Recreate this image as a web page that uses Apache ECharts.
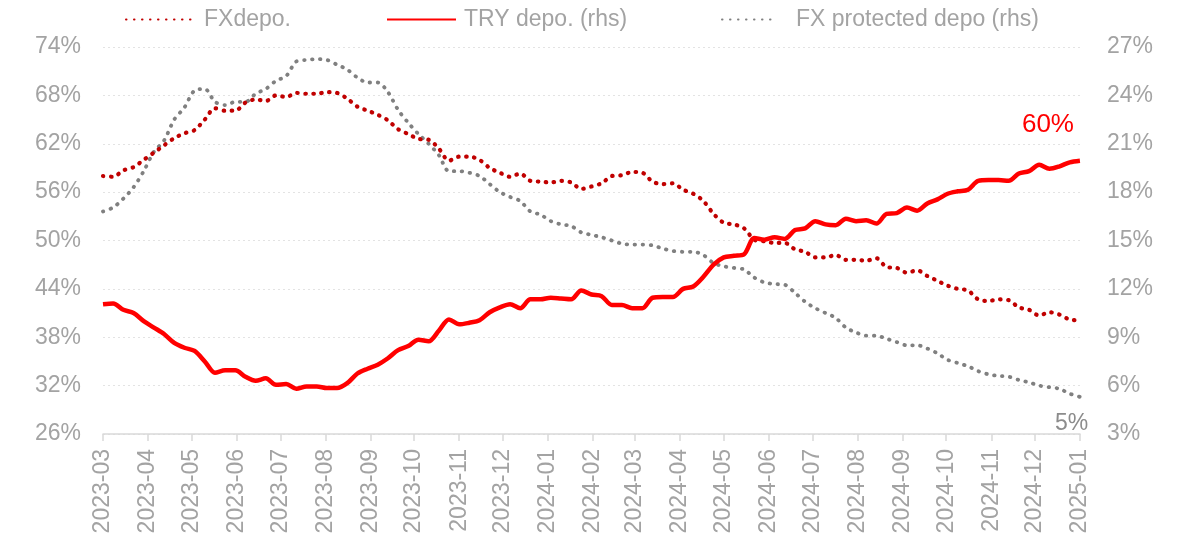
<!DOCTYPE html>
<html lang="en">
<head>
    <meta charset="UTF-8">
    <title>FX vs TRY deposits</title>
    <script src="https://cdn.jsdelivr.net/npm/echarts@6/dist/echarts.min.js"></script>
    <style>
        html, body { margin: 0; padding: 0; background: #fff; }
        #main { width: 1179px; height: 541px; }
    </style>
</head>
<body>
<div id="main"></div>
<script type="text/javascript">
    // weekly observations, first one on 2023-03-01, 97 weeks in total
    var startDate = [2023, 2, 1];
    var weekCount = 97;

    // share of FX deposits (lhs)
    var fxDepo = [58.0, 57.9, 58.7, 59.1, 60.0, 60.9, 61.8, 62.7, 63.3, 63.7,
        65.0, 66.4, 66.1, 66.1, 67.1, 67.5, 67.3, 68.0, 67.8, 68.3,
        68.2, 68.2, 68.4, 68.3, 67.6, 66.6, 66.1, 65.6, 64.9, 63.8,
        63.2, 62.6, 62.5, 61.4, 59.9, 60.4, 60.4, 60.0, 59.0, 58.4,
        57.9, 58.3, 57.4, 57.3, 57.2, 57.4, 57.2, 56.4, 56.7, 57.1,
        58.0, 58.1, 58.5, 58.4, 57.3, 57.0, 57.1, 56.3, 55.8, 54.9,
        53.3, 52.2, 52.0, 51.5, 50.1, 49.9, 49.7, 49.7, 48.9, 48.6,
        47.9, 47.9, 48.2, 47.6, 47.6, 47.5, 47.8, 46.7, 46.6, 46.0,
        46.3, 45.6, 45.0, 44.4, 44.0, 43.8, 42.7, 42.5, 42.7, 42.6,
        41.7, 41.4, 40.7, 41.1, 40.8, 40.2, 40.1];

    // share of TRY deposits
    var tryDepo = [42.1, 42.2, 41.4, 41.0, 40.0, 39.2, 38.4, 37.3, 36.7, 36.3,
        35.0, 33.6, 33.9, 33.9, 33.1, 32.6, 32.9, 32.1, 32.2, 31.6,
        31.9, 31.9, 31.7, 31.7, 32.3, 33.5, 34.1, 34.6, 35.4, 36.4,
        36.9, 37.7, 37.5, 38.8, 40.2, 39.6, 39.8, 40.1, 41.1, 41.7,
        42.1, 41.6, 42.7, 42.7, 42.9, 42.8, 42.7, 43.8, 43.3, 43.1,
        42.0, 42.0, 41.6, 41.6, 42.9, 43.0, 43.0, 44.0, 44.3, 45.5,
        47.0, 47.9, 48.1, 48.3, 50.3, 50.1, 50.4, 50.2, 51.3, 51.5,
        52.4, 52.0, 51.9, 52.7, 52.4, 52.5, 52.1, 53.3, 53.4, 54.1,
        53.7, 54.6, 55.1, 55.8, 56.1, 56.3, 57.4, 57.5, 57.5, 57.4,
        58.3, 58.6, 59.4, 58.9, 59.2, 59.7, 59.9];

    // share of FX protected deposits (rhs)
    var fxProtected = [16.8, 17.05, 17.6, 18.3, 19.3, 20.5, 21.2, 22.5, 23.25, 24.3,
        24.4, 23.6, 23.4, 23.6, 23.6, 24.1, 24.4, 24.9, 25.2, 26.1,
        26.2, 26.25, 26.2, 25.9, 25.6, 25.1, 24.8, 24.8, 24.2, 23.1,
        22.3, 21.6, 21.0, 20.3, 19.3, 19.3, 19.2, 19.0, 18.5, 18.0,
        17.7, 17.45, 16.8, 16.6, 16.2, 16.0, 15.9, 15.5, 15.35, 15.2,
        15.0, 14.8, 14.75, 14.75, 14.7, 14.5, 14.35, 14.3, 14.3, 14.1,
        13.6, 13.4, 13.3, 13.2, 12.7, 12.4, 12.3, 12.25, 11.75, 11.2,
        10.8, 10.5, 10.2, 9.6, 9.3, 9.1, 9.1, 8.9, 8.7, 8.5,
        8.5, 8.3, 8.0, 7.6, 7.4, 7.2, 6.9, 6.7, 6.6, 6.55,
        6.35, 6.2, 6.0, 5.9, 5.8, 5.5, 5.3];

    var leftTicks = [26, 74, 6];
    var rightTicks = [3, 27, 3];

    var dates = [];
    for (var i = 0; i < weekCount; i++) {
        dates.push(new Date(startDate[0], startDate[1], startDate[2] + 7 * i).getTime());
    }
    function pair(values) {
        return values.map(function (v, i) { return [dates[i], v]; });
    }
    function ym(v) {
        var d = new Date(v);
        var m = d.getMonth() + 1;
        return d.getFullYear() + '-' + (m < 10 ? '0' + m : m);
    }

    var font = 'Liberation Sans, Arial, sans-serif';
    var grey = '#a3a3a3';
    var day = 24 * 3600 * 1000;

    var myChart = echarts.init(document.getElementById('main'));
    var legendText = { color: grey, fontSize: 23, fontFamily: font };
    var noSymbol = { opacity: 0 };
    var option = {
        animation: false,
        backgroundColor: '#fff',
        legend: [
            { left: 120, top: 3, itemWidth: 66, itemHeight: 14, data: ['FXdepo.'], itemStyle: noSymbol,
              textStyle: Object.assign({ padding: [0, 0, 0, 7] }, legendText) },
            { left: 381, top: 3, itemWidth: 69, itemHeight: 14, data: ['TRY depo. (rhs)'], itemStyle: noSymbol,
              textStyle: Object.assign({ padding: [0, 0, 0, 3] }, legendText) },
            { left: 716, top: 3, itemWidth: 52, itemHeight: 14, data: ['FX protected depo (rhs)'], itemStyle: noSymbol,
              textStyle: Object.assign({ padding: [0, 0, 0, 17] }, legendText) }
        ],
        grid: { left: 103, right: 99, top: 47, bottom: 107, containLabel: false, outerBoundsMode: 'none' },
        xAxis: {
            type: 'time',
            min: dates[0],
            max: dates[dates.length - 1] + 3600 * 1000,
            minInterval: 28 * day,
            maxInterval: 31 * day,
            axisLine: { lineStyle: { color: '#d9d9d9', width: 1.5 } },
            axisTick: { show: true, length: 7, lineStyle: { color: '#d9d9d9', width: 1.5 } },
            splitLine: { show: false },
            axisLabel: {
                rotate: 90, margin: 15, color: grey, fontSize: 23, fontFamily: font,
                hideOverlap: false, showMaxLabel: true, showMinLabel: true,
                formatter: function (v) { return ym(v); }
            }
        },
        yAxis: [
            {
                type: 'value', min: leftTicks[0], max: leftTicks[1], interval: leftTicks[2],
                axisLine: { show: false }, axisTick: { show: false },
                splitLine: { lineStyle: { color: '#e3e3e3', type: [2, 3], width: 1 } },
                axisLabel: { margin: 22, color: grey, fontSize: 23, fontFamily: font, formatter: '{value}%' }
            },
            {
                type: 'value', min: rightTicks[0], max: rightTicks[1], interval: rightTicks[2],
                position: 'right',
                axisLine: { show: false }, axisTick: { show: false },
                splitLine: { show: false },
                axisLabel: { margin: 27, color: grey, fontSize: 23, fontFamily: font, formatter: '{value}%' }
            }
        ],
        series: [
            {
                name: 'FX protected depo (rhs)',
                type: 'line', yAxisIndex: 1, symbol: 'none', smooth: 0.3,
                data: pair(fxProtected),
                color: '#808080',
                lineStyle: { color: '#808080', width: 3.8, type: [0.5, 7.5], cap: 'round' },
                endLabel: {
                    show: true, color: '#8c8c8c', fontSize: 23, fontFamily: font,
                    offset: [-33, 27],
                    formatter: function (p) { return Math.round(p.value[1]) + '%'; }
                }
            },
            {
                name: 'FXdepo.',
                type: 'line', yAxisIndex: 0, symbol: 'none', smooth: 0.3,
                data: pair(fxDepo),
                color: '#c00000',
                lineStyle: { color: '#c00000', width: 4.2, type: [0.5, 7.5], cap: 'round' }
            },
            {
                name: 'TRY depo. (rhs)',
                type: 'line', yAxisIndex: 0, symbol: 'none', smooth: 0.3,
                data: pair(tryDepo),
                color: '#ff0000',
                lineStyle: { color: '#ff0000', width: 4.5 },
                endLabel: {
                    show: true, color: '#ff0000', fontSize: 26, fontFamily: font,
                    offset: [-66, -36],
                    formatter: function (p) { return Math.round(p.value[1]) + '%'; }
                }
            }
        ]
    };
    myChart.setOption(option);
</script>
</body>
</html>
